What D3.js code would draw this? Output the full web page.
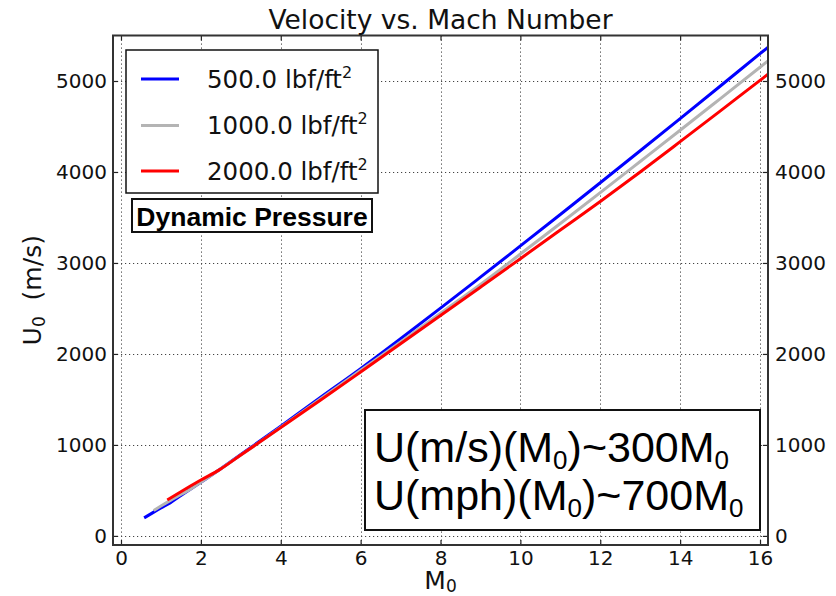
<!DOCTYPE html>
<html><head><meta charset="utf-8">
<script src="https://cdn.jsdelivr.net/npm/d3@7"></script>
<style>body{margin:0;background:#fff}</style>
</head><body>
<svg id="chart" width="836" height="596"></svg>
<script>
// Flight velocity U0 (m/s) against Mach number M0 at constant dynamic pressure
const mach500 = [0.58, 0.8, 1.0, 1.23, 1.5, 2.0, 2.5, 3, 4, 5, 6, 7, 8, 9, 10, 11, 12, 13, 14, 15, 16, 16.2];
const vel500  = [198, 256, 307, 363, 443, 590, 738, 894, 1206, 1524, 1838, 2167, 2503, 2844, 3187, 3533, 3882, 4233, 4586, 4942, 5300, 5371];

const mach1000 = [0.82, 1.0, 1.25, 1.5, 1.74, 2.0, 2.5, 3, 3.53, 4, 5, 6, 7, 8, 9, 10, 11, 12, 13, 14, 15, 16, 16.2];
const vel1000  = [280, 328, 393, 455, 513, 590, 738, 889, 1048, 1194, 1508, 1820, 2132, 2447, 2764, 3098, 3434, 3773, 4115, 4458, 4804, 5151, 5221];

const mach2000 = [1.16, 1.5, 2.0, 2.46, 3, 4, 5, 6, 7, 8, 9, 10, 11, 12, 13, 14, 15, 16, 16.2];
const vel2000  = [395, 486, 614, 726, 889, 1190, 1493, 1801, 2111, 2422, 2734, 3047, 3362, 3676, 4000, 4333, 4669, 5007, 5074];

const pressureLabels = ["500.0", "1000.0", "2000.0"];
const seriesColors = ["#0000ff", "#b4b4b4", "#ff0000"];

const xTicks = [0, 2, 4, 6, 8, 10, 12, 14, 16];
const yTicks = [0, 1000, 2000, 3000, 4000, 5000];

const series = [
  { mach: mach500, vel: vel500 },
  { mach: mach1000, vel: vel1000 },
  { mach: mach2000, vel: vel2000 }
].map((s, i) => ({
  label: pressureLabels[i],
  color: seriesColors[i],
  points: s.mach.map((m, j) => [m, s.vel[j]])
}));

const svg = d3.select("#chart");
const plotL = 113, plotR = 768, plotT = 35.5, plotB = 545;

const x = d3.scaleLinear().domain([-0.2, 16.2]).range([plotL, plotR]);
const y = d3.scaleLinear().domain([-100, 5500]).range([plotB, plotT]);

const tickFont = "'DejaVu Sans', sans-serif";
const noteFont = "'Liberation Sans', Arial, sans-serif";

// dotted grid
const grid = svg.append("g").attr("stroke", "#444").attr("stroke-width", 1)
  .attr("stroke-dasharray", "1.2,2.8");
grid.selectAll("line.v").data(xTicks).join("line").attr("class", "v")
  .attr("x1", d => Math.round(x(d)) + 0.5).attr("x2", d => Math.round(x(d)) + 0.5)
  .attr("y1", plotT).attr("y2", plotB);
grid.selectAll("line.h").data(yTicks).join("line").attr("class", "h")
  .attr("y1", d => Math.round(y(d)) + 0.5).attr("y2", d => Math.round(y(d)) + 0.5)
  .attr("x1", plotL).attr("x2", plotR);

// curves
svg.append("clipPath").attr("id", "plotArea")
  .append("rect").attr("x", plotL).attr("y", plotT).attr("width", plotR - plotL).attr("height", plotB - plotT);

const line = d3.line().x(d => x(d[0])).y(d => y(d[1])).curve(d3.curveMonotoneX);
svg.append("g").attr("clip-path", "url(#plotArea)")
  .selectAll("path").data(series).join("path")
  .attr("d", d => line(d.points))
  .attr("fill", "none")
  .attr("stroke", d => d.color)
  .attr("stroke-width", 3)
  .attr("stroke-linejoin", "round");

// axes with inward ticks
function styleAxis(g) {
  g.select(".domain").remove();
  g.selectAll(".tick line").attr("stroke", "#222").attr("stroke-width", 1.2);
  g.selectAll(".tick text").attr("font-family", tickFont).attr("font-size", 20).attr("fill", "#111");
}
svg.append("g").attr("transform", `translate(${plotL},0)`)
  .call(d3.axisLeft(y).tickValues(yTicks).tickSizeInner(-5).tickSizeOuter(0).tickPadding(6).tickFormat(d3.format("d")))
  .call(styleAxis);
svg.append("g").attr("transform", `translate(${plotR},0)`)
  .call(d3.axisRight(y).tickValues(yTicks).tickSizeInner(-5).tickSizeOuter(0).tickPadding(7).tickFormat(d3.format("d")))
  .call(styleAxis);
svg.append("g").attr("transform", `translate(0,${plotB})`)
  .call(d3.axisBottom(x).tickValues(xTicks).tickSizeInner(-5).tickSizeOuter(0).tickPadding(6).tickFormat(d3.format("d")))
  .call(styleAxis);
svg.append("g").attr("transform", `translate(0,${plotT})`)
  .call(d3.axisTop(x).tickValues(xTicks).tickSizeInner(-5).tickSizeOuter(0).tickFormat(""))
  .call(styleAxis);

// frame
svg.append("rect").attr("x", plotL).attr("y", plotT).attr("width", plotR - plotL).attr("height", plotB - plotT)
  .attr("fill", "none").attr("stroke", "#333").attr("stroke-width", 2);

// title and axis labels
svg.append("text").attr("x", (plotL + plotR) / 2).attr("y", 29).attr("text-anchor", "middle")
  .attr("font-family", tickFont).attr("font-size", 26.5).attr("fill", "#111")
  .text("Velocity vs. Mach Number");

const xl = svg.append("text").attr("x", (plotL + plotR) / 2).attr("y", 589).attr("text-anchor", "middle")
  .attr("font-family", tickFont).attr("font-size", 25).attr("fill", "#111");
xl.append("tspan").text("M");
xl.append("tspan").attr("font-size", 17).attr("dy", 3).text("0");

const yl = svg.append("text").attr("transform", `translate(41,${(plotT + plotB) / 2}) rotate(-90)`)
  .attr("text-anchor", "middle").attr("font-family", tickFont).attr("font-size", 25).attr("fill", "#111")
  .style("white-space", "pre");
yl.append("tspan").text("U");
yl.append("tspan").attr("font-size", 17).attr("dy", 4).text("0");
yl.append("tspan").attr("dy", -4).text("  (m/s)");

// legend
const lg = svg.append("g");
lg.append("rect").attr("x", 126).attr("y", 50).attr("width", 252).attr("height", 143)
  .attr("fill", "#fff").attr("stroke", "#111").attr("stroke-width", 1.5);
const rowY = [79, 125.5, 171];
series.forEach((s, i) => {
  lg.append("line").attr("x1", 141).attr("x2", 179).attr("y1", rowY[i]).attr("y2", rowY[i])
    .attr("stroke", s.color).attr("stroke-width", 3);
  const t = lg.append("text").attr("x", 207).attr("y", rowY[i] + 8.5)
    .attr("font-family", tickFont).attr("font-size", 24.5).attr("fill", "#111");
  t.append("tspan").text(s.label + " lbf/ft");
  t.append("tspan").attr("font-size", 16).attr("dy", -10).text("2");
});

// dynamic pressure caption
svg.append("rect").attr("x", 132).attr("y", 199).attr("width", 240).attr("height", 33)
  .attr("fill", "#fff").attr("stroke", "#111").attr("stroke-width", 2);
svg.append("text").attr("x", 252).attr("y", 225.5).attr("text-anchor", "middle")
  .attr("font-family", noteFont).attr("font-weight", "bold")
  .attr("font-size", 26.5).attr("fill", "#000").text("Dynamic Pressure");

// rule-of-thumb note
svg.append("rect").attr("x", 365).attr("y", 410).attr("width", 395).attr("height", 120)
  .attr("fill", "#fff").attr("stroke", "#111").attr("stroke-width", 2);
const noteLines = [
  ["U(m/s)(M", "0", ")~300M", "0"],
  ["U(mph)(M", "0", ")~700M", "0"]
];
const noteBase = [462, 510];
noteLines.forEach((parts, i) => {
  const t = svg.append("text").attr("x", 374).attr("y", noteBase[i])
    .attr("font-family", noteFont).attr("font-size", 43).attr("fill", "#000");
  parts.forEach((p, k) => {
    const sub = k % 2 === 1;
    t.append("tspan").attr("font-size", sub ? 26 : 43).attr("dy", sub ? 7 : (k > 0 ? -7 : 0)).text(p);
  });
});
</script>
</body></html>
